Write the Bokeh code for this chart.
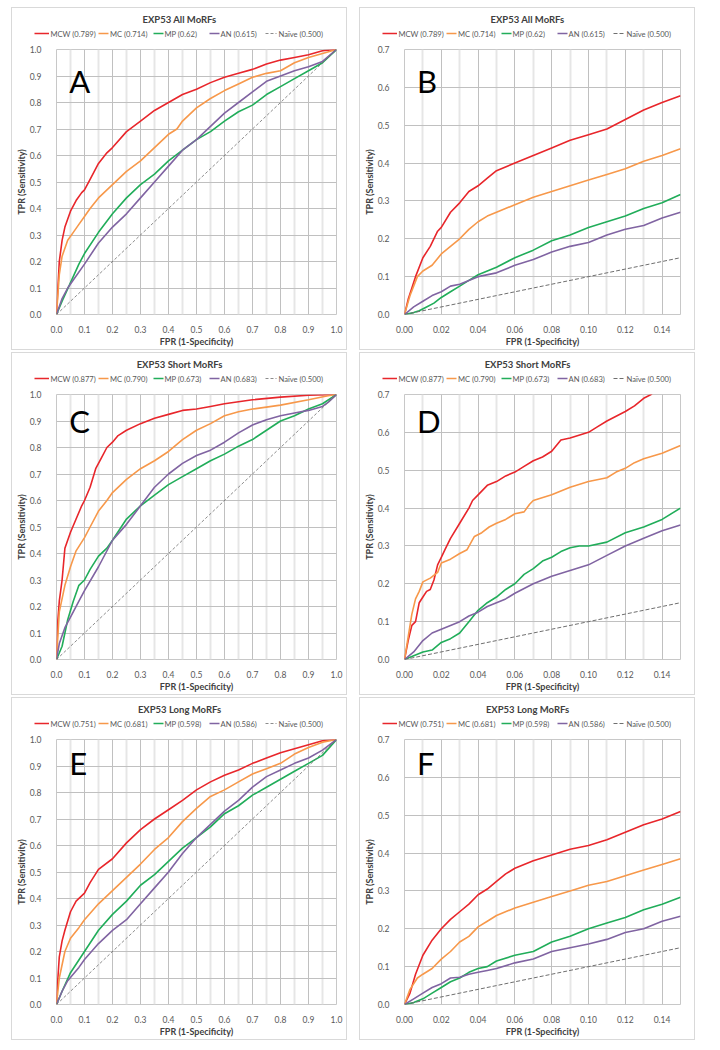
from bokeh.plotting import figure
from bokeh.models import FixedTicker, NumeralTickFormatter, Label, Range1d, Spacer
from bokeh.core.properties import value
from bokeh.layouts import row, column
from bokeh.embed import file_html
from bokeh.resources import INLINE

# ---------------- data ----------------
series_names = ["MCW", "MC", "MP", "AN"]
naive_label = "Naïve (0.500)"

auc_all = ["0.789", "0.714", "0.62", "0.615"]
auc_short = ["0.877", "0.790", "0.673", "0.683"]
auc_long = ["0.751", "0.681", "0.598", "0.586"]

titles = ["EXP53 All MoRFs", "EXP53 Short MoRFs", "EXP53 Long MoRFs"]
letters = ["A", "B", "C", "D", "E", "F"]

full_x_major = [0.0, 0.1, 0.2, 0.3, 0.4, 0.5, 0.6, 0.7, 0.8, 0.9, 1.0]
full_x_minor = [0.05, 0.15, 0.25, 0.35, 0.45, 0.55, 0.65, 0.75, 0.85, 0.95]
full_y_major = [0.0, 0.1, 0.2, 0.3, 0.4, 0.5, 0.6, 0.7, 0.8, 0.9, 1.0]
zoom_x_major = [0.0, 0.02, 0.04, 0.06, 0.08, 0.10, 0.12, 0.14]
zoom_x_minor = [0.01, 0.03, 0.05, 0.07, 0.09, 0.11, 0.13, 0.15]
zoom_y_major = [0.0, 0.1, 0.2, 0.3, 0.4, 0.5, 0.6, 0.7]

naive_full_x = [0.0, 1.0]
naive_full_y = [0.0, 1.0]
naive_zoom_x = [0.0, 0.15]
naive_zoom_y = [0.0, 0.15]

# Panel A (All MoRFs, full range)
a_mcw_x = [0, 0.005, 0.01, 0.02, 0.03, 0.05, 0.07, 0.09, 0.1, 0.12, 0.15, 0.18, 0.2, 0.25, 0.3, 0.35, 0.4, 0.45, 0.5, 0.55, 0.6, 0.65, 0.7, 0.75, 0.8, 0.85, 0.9, 0.95, 1]
a_mcw_y = [0, 0.1, 0.2, 0.28, 0.33, 0.39, 0.43, 0.46, 0.47, 0.51, 0.57, 0.61, 0.63, 0.69, 0.73, 0.77, 0.8, 0.83, 0.85, 0.875, 0.895, 0.91, 0.925, 0.945, 0.96, 0.97, 0.98, 0.995, 1]
a_mc_x = [0, 0.01, 0.02, 0.04, 0.06, 0.08, 0.1, 0.12, 0.15, 0.2, 0.25, 0.3, 0.35, 0.4, 0.43, 0.45, 0.5, 0.55, 0.6, 0.65, 0.7, 0.75, 0.8, 0.85, 0.9, 0.95, 1]
a_mc_y = [0, 0.15, 0.22, 0.28, 0.31, 0.34, 0.37, 0.4, 0.44, 0.49, 0.54, 0.58, 0.63, 0.68, 0.7, 0.73, 0.78, 0.815, 0.845, 0.87, 0.895, 0.91, 0.92, 0.95, 0.97, 0.985, 1]
a_mp_x = [0, 0.02, 0.05, 0.08, 0.1, 0.15, 0.2, 0.25, 0.3, 0.35, 0.4, 0.45, 0.5, 0.55, 0.6, 0.65, 0.7, 0.75, 0.8, 0.85, 0.9, 0.95, 1]
a_mp_y = [0, 0.05, 0.12, 0.19, 0.23, 0.31, 0.38, 0.44, 0.49, 0.53, 0.58, 0.62, 0.66, 0.69, 0.73, 0.765, 0.79, 0.83, 0.86, 0.89, 0.92, 0.95, 1]
a_an_x = [0, 0.02, 0.04, 0.06, 0.1, 0.15, 0.2, 0.25, 0.3, 0.35, 0.4, 0.45, 0.5, 0.55, 0.6, 0.65, 0.7, 0.75, 0.8, 0.85, 0.9, 0.95, 1]
a_an_y = [0, 0.06, 0.1, 0.13, 0.19, 0.27, 0.33, 0.38, 0.44, 0.5, 0.56, 0.62, 0.66, 0.71, 0.76, 0.8, 0.84, 0.88, 0.9, 0.92, 0.935, 0.955, 1]

# Panel B (All MoRFs, FPR <= 0.15)
b_mcw_x = [0, 0.002, 0.006, 0.01, 0.014, 0.018, 0.02, 0.025, 0.03, 0.035, 0.04, 0.045, 0.05, 0.06, 0.07, 0.08, 0.09, 0.1, 0.11, 0.12, 0.13, 0.14, 0.15]
b_mcw_y = [0, 0.04, 0.1, 0.15, 0.18, 0.22, 0.23, 0.27, 0.295, 0.325, 0.34, 0.36, 0.38, 0.4, 0.42, 0.44, 0.46, 0.475, 0.49, 0.515, 0.54, 0.56, 0.578]
b_mc_x = [0, 0.003, 0.007, 0.01, 0.015, 0.02, 0.025, 0.03, 0.035, 0.04, 0.045, 0.05, 0.06, 0.07, 0.08, 0.09, 0.1, 0.11, 0.12, 0.13, 0.14, 0.15]
b_mc_y = [0, 0.05, 0.1, 0.115, 0.13, 0.16, 0.18, 0.2, 0.225, 0.245, 0.26, 0.27, 0.29, 0.31, 0.325, 0.34, 0.355, 0.37, 0.385, 0.405, 0.42, 0.438]
b_mp_x = [0, 0.005, 0.008, 0.012, 0.016, 0.02, 0.025, 0.03, 0.035, 0.04, 0.045, 0.05, 0.06, 0.07, 0.08, 0.09, 0.1, 0.11, 0.12, 0.13, 0.14, 0.15]
b_mp_y = [0, 0.005, 0.01, 0.02, 0.03, 0.045, 0.06, 0.075, 0.09, 0.105, 0.115, 0.125, 0.15, 0.17, 0.195, 0.21, 0.23, 0.245, 0.26, 0.28, 0.295, 0.317]
b_an_x = [0, 0.005, 0.01, 0.015, 0.02, 0.025, 0.03, 0.035, 0.04, 0.05, 0.06, 0.07, 0.08, 0.09, 0.1, 0.11, 0.12, 0.13, 0.14, 0.15]
b_an_y = [0, 0.02, 0.035, 0.05, 0.06, 0.075, 0.08, 0.09, 0.1, 0.11, 0.13, 0.145, 0.165, 0.18, 0.19, 0.21, 0.225, 0.235, 0.255, 0.27]

# Panel C (Short MoRFs, full range)
c_mcw_x = [0, 0.005, 0.01, 0.02, 0.03, 0.05, 0.07, 0.09, 0.1, 0.12, 0.14, 0.16, 0.18, 0.2, 0.22, 0.25, 0.3, 0.35, 0.4, 0.45, 0.5, 0.55, 0.6, 0.7, 0.8, 0.9, 1]
c_mcw_y = [0, 0.15, 0.22, 0.3, 0.42, 0.48, 0.53, 0.58, 0.6, 0.65, 0.72, 0.76, 0.8, 0.82, 0.845, 0.865, 0.89, 0.91, 0.925, 0.94, 0.945, 0.955, 0.965, 0.98, 0.99, 0.997, 1]
c_mc_x = [0, 0.01, 0.03, 0.05, 0.07, 0.1, 0.12, 0.15, 0.18, 0.2, 0.25, 0.3, 0.35, 0.4, 0.45, 0.5, 0.55, 0.6, 0.65, 0.7, 0.8, 0.9, 0.97, 1]
c_mc_y = [0, 0.18, 0.28, 0.35, 0.41, 0.46, 0.5, 0.56, 0.6, 0.63, 0.68, 0.72, 0.75, 0.785, 0.83, 0.865, 0.89, 0.92, 0.935, 0.945, 0.96, 0.98, 0.995, 1]
c_mp_x = [0, 0.02, 0.04, 0.06, 0.08, 0.1, 0.12, 0.15, 0.18, 0.2, 0.25, 0.3, 0.35, 0.4, 0.45, 0.5, 0.55, 0.6, 0.65, 0.7, 0.75, 0.8, 0.85, 0.9, 0.95, 1]
c_mp_y = [0, 0.05, 0.15, 0.22, 0.28, 0.3, 0.34, 0.39, 0.42, 0.45, 0.53, 0.58, 0.62, 0.66, 0.69, 0.72, 0.75, 0.775, 0.805, 0.83, 0.865, 0.9, 0.92, 0.945, 0.965, 1]
c_an_x = [0, 0.01, 0.03, 0.05, 0.08, 0.1, 0.15, 0.2, 0.25, 0.3, 0.35, 0.4, 0.45, 0.5, 0.55, 0.6, 0.65, 0.7, 0.75, 0.8, 0.85, 0.9, 0.95, 0.97, 1]
c_an_y = [0, 0.06, 0.12, 0.16, 0.22, 0.26, 0.35, 0.45, 0.51, 0.58, 0.65, 0.7, 0.74, 0.77, 0.79, 0.82, 0.855, 0.885, 0.905, 0.92, 0.93, 0.94, 0.955, 0.97, 1]

# Panel D (Short MoRFs, FPR <= 0.15)
d_mcw_x = [0, 0.002, 0.004, 0.006, 0.008, 0.01, 0.012, 0.014, 0.016, 0.018, 0.02, 0.022, 0.025, 0.03, 0.035, 0.037, 0.04, 0.045, 0.05, 0.055, 0.06, 0.065, 0.07, 0.075, 0.08, 0.085, 0.09, 0.1, 0.105, 0.11, 0.12, 0.125, 0.13, 0.134, 0.14]
d_mcw_y = [0, 0.05, 0.09, 0.1, 0.15, 0.165, 0.18, 0.185, 0.21, 0.25, 0.27, 0.29, 0.32, 0.36, 0.4, 0.42, 0.435, 0.46, 0.47, 0.485, 0.495, 0.51, 0.525, 0.535, 0.55, 0.58, 0.585, 0.6, 0.615, 0.63, 0.655, 0.67, 0.69, 0.7, 0.73]
d_mc_x = [0, 0.002, 0.004, 0.006, 0.008, 0.01, 0.014, 0.018, 0.02, 0.025, 0.03, 0.034, 0.038, 0.042, 0.046, 0.05, 0.055, 0.06, 0.065, 0.068, 0.07, 0.08, 0.09, 0.1, 0.11, 0.115, 0.12, 0.125, 0.13, 0.14, 0.15]
d_mc_y = [0, 0.06, 0.12, 0.16, 0.18, 0.205, 0.215, 0.23, 0.255, 0.265, 0.28, 0.29, 0.325, 0.335, 0.35, 0.36, 0.37, 0.385, 0.39, 0.41, 0.42, 0.435, 0.455, 0.47, 0.48, 0.495, 0.505, 0.52, 0.53, 0.545, 0.565]
d_mp_x = [0, 0.005, 0.01, 0.015, 0.02, 0.025, 0.03, 0.035, 0.04, 0.045, 0.05, 0.055, 0.06, 0.065, 0.07, 0.075, 0.08, 0.085, 0.09, 0.095, 0.1, 0.11, 0.12, 0.13, 0.14, 0.15]
d_mp_y = [0, 0.01, 0.02, 0.025, 0.045, 0.055, 0.07, 0.1, 0.13, 0.15, 0.165, 0.185, 0.2, 0.225, 0.24, 0.26, 0.27, 0.285, 0.295, 0.3, 0.3, 0.31, 0.335, 0.35, 0.37, 0.4]
d_an_x = [0, 0.005, 0.01, 0.015, 0.02, 0.025, 0.03, 0.035, 0.04, 0.045, 0.05, 0.055, 0.06, 0.07, 0.08, 0.09, 0.1, 0.11, 0.12, 0.13, 0.14, 0.15]
d_an_y = [0, 0.02, 0.05, 0.07, 0.08, 0.09, 0.1, 0.115, 0.125, 0.14, 0.15, 0.16, 0.175, 0.2, 0.22, 0.235, 0.25, 0.275, 0.3, 0.32, 0.34, 0.355]

# Panel E (Long MoRFs, full range)
e_mcw_x = [0, 0.005, 0.01, 0.02, 0.03, 0.05, 0.07, 0.1, 0.12, 0.15, 0.2, 0.25, 0.3, 0.35, 0.4, 0.45, 0.5, 0.55, 0.6, 0.65, 0.7, 0.75, 0.8, 0.85, 0.9, 0.95, 1]
e_mcw_y = [0, 0.1, 0.18, 0.24, 0.28, 0.35, 0.39, 0.42, 0.46, 0.51, 0.55, 0.61, 0.66, 0.7, 0.735, 0.77, 0.81, 0.84, 0.865, 0.885, 0.91, 0.93, 0.95, 0.965, 0.98, 0.995, 1]
e_mc_x = [0, 0.01, 0.03, 0.05, 0.08, 0.1, 0.15, 0.2, 0.25, 0.3, 0.35, 0.4, 0.45, 0.5, 0.55, 0.6, 0.65, 0.7, 0.75, 0.8, 0.85, 0.9, 0.95, 1]
e_mc_y = [0, 0.1, 0.2, 0.25, 0.29, 0.32, 0.38, 0.43, 0.48, 0.53, 0.585, 0.63, 0.69, 0.74, 0.785, 0.81, 0.84, 0.87, 0.89, 0.91, 0.945, 0.97, 0.99, 1]
e_mp_x = [0, 0.02, 0.05, 0.1, 0.15, 0.2, 0.25, 0.3, 0.35, 0.4, 0.45, 0.5, 0.55, 0.6, 0.65, 0.7, 0.75, 0.8, 0.85, 0.9, 0.95, 1]
e_mp_y = [0, 0.05, 0.12, 0.2, 0.28, 0.34, 0.39, 0.45, 0.49, 0.54, 0.59, 0.63, 0.67, 0.72, 0.75, 0.79, 0.82, 0.85, 0.88, 0.91, 0.94, 1]
e_an_x = [0, 0.02, 0.04, 0.08, 0.1, 0.15, 0.2, 0.25, 0.3, 0.35, 0.4, 0.45, 0.5, 0.55, 0.6, 0.65, 0.7, 0.75, 0.8, 0.85, 0.9, 0.95, 1]
e_an_y = [0, 0.05, 0.09, 0.14, 0.17, 0.23, 0.28, 0.32, 0.38, 0.44, 0.5, 0.57, 0.63, 0.68, 0.73, 0.77, 0.82, 0.86, 0.885, 0.91, 0.93, 0.96, 1]

# Panel F (Long MoRFs, FPR <= 0.15)
f_mcw_x = [0, 0.003, 0.006, 0.01, 0.015, 0.02, 0.025, 0.03, 0.035, 0.04, 0.045, 0.05, 0.055, 0.06, 0.07, 0.08, 0.09, 0.1, 0.11, 0.12, 0.13, 0.14, 0.15]
f_mcw_y = [0, 0.03, 0.08, 0.13, 0.17, 0.2, 0.225, 0.245, 0.265, 0.29, 0.305, 0.325, 0.345, 0.36, 0.38, 0.395, 0.41, 0.42, 0.435, 0.455, 0.475, 0.49, 0.51]
f_mc_x = [0, 0.003, 0.007, 0.01, 0.015, 0.02, 0.025, 0.03, 0.035, 0.04, 0.045, 0.05, 0.06, 0.07, 0.08, 0.09, 0.1, 0.11, 0.12, 0.13, 0.14, 0.15]
f_mc_y = [0, 0.04, 0.07, 0.08, 0.095, 0.12, 0.14, 0.165, 0.18, 0.205, 0.22, 0.235, 0.255, 0.27, 0.285, 0.3, 0.315, 0.325, 0.34, 0.355, 0.37, 0.385]
f_mp_x = [0, 0.005, 0.01, 0.015, 0.02, 0.025, 0.03, 0.035, 0.04, 0.045, 0.05, 0.06, 0.07, 0.08, 0.09, 0.1, 0.11, 0.12, 0.13, 0.14, 0.15]
f_mp_y = [0, 0.005, 0.015, 0.03, 0.045, 0.06, 0.07, 0.085, 0.095, 0.1, 0.115, 0.13, 0.14, 0.165, 0.18, 0.2, 0.215, 0.23, 0.25, 0.265, 0.283]
f_an_x = [0, 0.005, 0.01, 0.015, 0.02, 0.025, 0.03, 0.035, 0.04, 0.045, 0.05, 0.06, 0.07, 0.08, 0.09, 0.1, 0.11, 0.12, 0.13, 0.14, 0.15]
f_an_y = [0, 0.015, 0.03, 0.045, 0.055, 0.07, 0.072, 0.08, 0.085, 0.09, 0.095, 0.11, 0.12, 0.14, 0.15, 0.16, 0.172, 0.19, 0.2, 0.22, 0.233]

# ---------------- style / layout ----------------
FONT = "Lato"
COLORS = ["#e8262b", "#f7984a", "#21ad5a", "#8064a2"]
NAIVE_COLOR = "#6f6f6f"
W = 334
HEAD_H = 36
MAIN_H = 305
B_TOP, B_BOTTOM = 5, 33
BORDERS_LR = {True: (37, 10), False: (38, 14)}
# legend key geometry inside the header (pixels from the box's left edge)
KEY_X0 = [22, 86, 141, 197, 253]
KEY_X1 = [36.5, 96, 151, 207, 264]
KEY_TEXT_X = [38, 97.5, 152, 208, 266]
KEY_Y = HEAD_H - 25
TITLE_Y = HEAD_H - 11
# panel letter placement: fraction of the x span from the left, fraction of y span from the top
LETTER_FX = 13 / 286
LETTER_FY = [32 / 267, 32 / 267, 27 / 267, 27 / 267, 24 / 267, 24 / 267]


def line_style(i, full):
    if i < 4:
        return dict(line_color=COLORS[i], line_width=1.6)
    return dict(line_color=NAIVE_COLOR, line_width=0.8 if full else 1.0,
                line_dash="3 2" if full else "4 2")


def make_header(title, aucs, full):
    h = figure(width=W, height=HEAD_H, output_backend="svg", toolbar_location=None,
               x_range=Range1d(0, W), y_range=Range1d(0, HEAD_H),
               x_axis_location=None, y_axis_location=None,
               min_border_left=0, min_border_right=0, min_border_top=0, min_border_bottom=0)
    h.frame_align = False
    h.grid.visible = False
    h.outline_line_color = None
    h.background_fill_color = "white"
    h.border_fill_color = "white"
    labels = [f"{series_names[i]} ({aucs[i]})" for i in range(4)] + [naive_label]
    for i in range(5):
        h.segment(x0=[KEY_X0[i]], y0=[KEY_Y], x1=[KEY_X1[i]], y1=[KEY_Y],
                  **line_style(i, full))
    h.text(x=KEY_TEXT_X, y=[KEY_Y] * 5, text=labels, text_font=value(FONT),
           text_font_size="7.6px", text_color="#595959", text_baseline="middle")
    h.add_layout(Label(x=W / 2, y=TITLE_Y, x_units="screen", y_units="screen",
                       text=title, text_font=FONT, text_font_size="9.5px",
                       text_font_style="bold", text_color="#404040",
                       text_align="center", text_baseline="middle"))
    return h


def make_panel(idx, title, aucs, curves, full):
    xmax = 1.0 if full else 0.15
    ymax = 1.0 if full else 0.7
    bl, br = BORDERS_LR[full]
    p = figure(width=W, height=MAIN_H, output_backend="svg", toolbar_location=None,
               x_range=Range1d(0, xmax), y_range=Range1d(0, ymax),
               min_border_left=bl, min_border_right=br,
               min_border_bottom=B_BOTTOM, min_border_top=B_TOP)
    p.frame_align = False
    p.background_fill_color = "white"
    p.border_fill_color = "white"
    p.outline_line_color = "#c8c8c8"

    xm = full_x_major if full else zoom_x_major
    xn = full_x_minor if full else zoom_x_minor
    ym = full_y_major if full else zoom_y_major
    p.xaxis.ticker = FixedTicker(ticks=xm)
    p.yaxis.ticker = FixedTicker(ticks=ym)
    p.xgrid.ticker = FixedTicker(ticks=xm, minor_ticks=xn)
    p.ygrid.ticker = FixedTicker(ticks=ym)
    p.xaxis.formatter = NumeralTickFormatter(format="0.0" if full else "0.00")
    p.yaxis.formatter = NumeralTickFormatter(format="0.0")
    p.xgrid.grid_line_color = "#c0c0c0"
    p.ygrid.grid_line_color = "#c0c0c0"
    p.xgrid.minor_grid_line_color = "#e6e6e6"
    p.xgrid.minor_grid_line_width = 2
    for ax in (p.xaxis[0], p.yaxis[0]):
        ax.axis_line_color = None
        ax.major_tick_line_color = None
        ax.minor_tick_line_color = None
        ax.major_label_text_font = FONT
        ax.major_label_text_font_size = "8.5px"
        ax.major_label_text_color = "#595959"
        ax.axis_label_text_font = FONT
        ax.axis_label_text_font_size = "9px"
        ax.axis_label_text_font_style = "bold"
        ax.axis_label_text_color = "#404040"
    p.xaxis.major_label_standoff = 5
    p.yaxis.major_label_standoff = 9
    p.xaxis.axis_label = "FPR (1-Specificity)"
    p.yaxis.axis_label = "TPR (Sensitivity)"
    p.xaxis.axis_label_standoff = 0
    p.yaxis.axis_label_standoff = 0

    for i, (cx, cy) in enumerate(curves):
        p.line(cx, cy, **line_style(i, full))
    nx = naive_full_x if full else naive_zoom_x
    ny = naive_full_y if full else naive_zoom_y
    p.line(nx, ny, **line_style(4, full))

    p.add_layout(Label(x=xmax * LETTER_FX, y=ymax * (1 - LETTER_FY[idx]),
                       text=letters[idx], text_font=FONT, text_font_size="31px",
                       text_color="black", text_baseline="alphabetic"))

    box = column(make_header(title, aucs, full), p)
    box.styles = {"outline": "1px solid #d9d9d9"}
    return box


pA = make_panel(0, titles[0], auc_all,
                [(a_mcw_x, a_mcw_y), (a_mc_x, a_mc_y), (a_mp_x, a_mp_y), (a_an_x, a_an_y)], True)
pB = make_panel(1, titles[0], auc_all,
                [(b_mcw_x, b_mcw_y), (b_mc_x, b_mc_y), (b_mp_x, b_mp_y), (b_an_x, b_an_y)], False)
pC = make_panel(2, titles[1], auc_short,
                [(c_mcw_x, c_mcw_y), (c_mc_x, c_mc_y), (c_mp_x, c_mp_y), (c_an_x, c_an_y)], True)
pD = make_panel(3, titles[1], auc_short,
                [(d_mcw_x, d_mcw_y), (d_mc_x, d_mc_y), (d_mp_x, d_mp_y), (d_an_x, d_an_y)], False)
pE = make_panel(4, titles[2], auc_long,
                [(e_mcw_x, e_mcw_y), (e_mc_x, e_mc_y), (e_mp_x, e_mp_y), (e_an_x, e_an_y)], True)
pF = make_panel(5, titles[2], auc_long,
                [(f_mcw_x, f_mcw_y), (f_mc_x, f_mc_y), (f_mp_x, f_mp_y), (f_an_x, f_an_y)], False)


def hgap():
    return Spacer(width=14, height=10)


def vgap(h=4):
    return Spacer(width=10, height=h)


grid = column(vgap(8), row(pA, hgap(), pB), vgap(), row(pC, hgap(), pD), vgap(),
              row(pE, hgap(), pF))
layout = row(Spacer(width=12, height=10), grid)

open("out.html", "w").write(file_html(layout, INLINE))
